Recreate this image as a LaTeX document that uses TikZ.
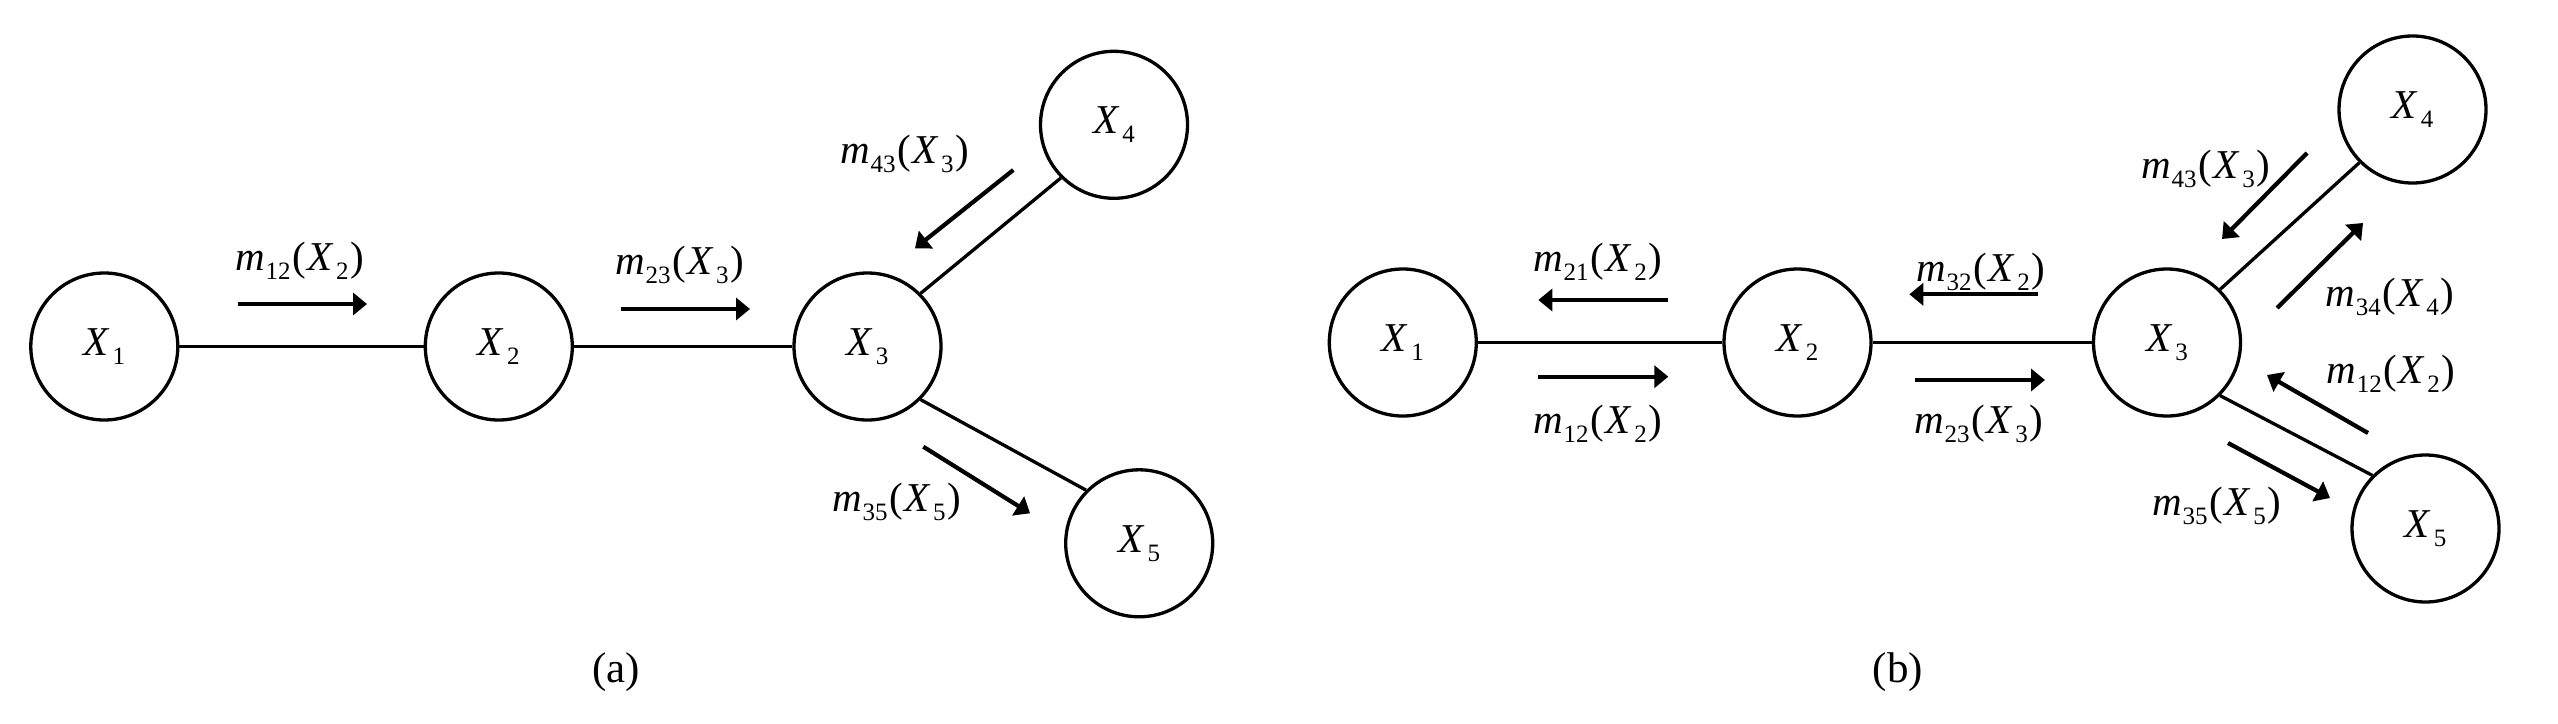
\documentclass[tikz,border=0pt]{standalone}
\usepackage{fontspec}
\setmainfont{Liberation Serif}
\usetikzlibrary{arrows.meta}
\newcommand\sub[1]{\raisebox{-0.22em}{\fontsize{25}{25}\selectfont #1}}
\newcommand\msg[2]{\textit{m}\kern0.5pt\sub{#1}\kern2pt(\kern1pt\textit{X}\kern2.5pt\sub{#2}\kern2pt)}
\newcommand\nx[1]{\textit{X}\kern3pt\sub{#1}}
\tikzset{
  var/.style={circle,draw,line width=3.3pt,minimum size=147pt,inner sep=0pt,font=\fontsize{41}{43}\selectfont},
  edge/.style={line width=3.3pt},
  msgarrow/.style={line width=4.2pt,-{Triangle[length=14pt,width=22pt]}},
  lbl/.style={anchor=base,inner sep=0pt,font=\fontsize{41}{43}\selectfont},
  subcap/.style={inner sep=0pt,font=\fontsize{43}{45}\selectfont}
}
\begin{document}
\begin{tikzpicture}[x=1pt,y=-1pt]
\useasboundingbox (0,0) rectangle (2558,723);
% ---------- (a) ----------
\node[var] (a1) at (104.3,346.5) {\nx{1}};
\node[var] (a2) at (498.8,346.5) {\nx{2}};
\node[var] (a3) at (867.5,346.5) {\nx{3}};
\node[var] (a4) at (1114,124.8) {\nx{4}};
\node[var] (a5) at (1139.2,543.3) {\nx{5}};
\draw[edge] (a1.east) -- (a2.west);
\draw[edge] (a2.east) -- (a3.west);
\draw[edge] (a3.north east) -- (a4.south west);
\draw[edge] (a3.south east) -- (a5.north west);
\coordinate (a12s) at (238,304);   \coordinate (a12e) at (367,304);
\coordinate (a23s) at (620.7,309); \coordinate (a23e) at (750,309);
\coordinate (a43s) at (1013.3,170); \coordinate (a43e) at (915,248.3);
\coordinate (a35s) at (923.3,446.7); \coordinate (a35e) at (1030,513.3);
\draw[msgarrow] (a12s) -- (a12e);
\draw[msgarrow] (a23s) -- (a23e);
\draw[msgarrow] (a43s) -- (a43e);
\draw[msgarrow] (a35s) -- (a35e);
\node[lbl] (la12) at (300,270) {\msg{12}{2}};
\node[lbl] (la23) at (680,274) {\msg{23}{3}};
\node[lbl] (la43) at (905,163) {\msg{43}{3}};
\node[lbl] (la35) at (897,511.7) {\msg{35}{5}};
\node[subcap] (capa) at (616,672) {(a)};
% ---------- (b) ----------
\node[var] (b1) at (1402.8,342.5) {\nx{1}};
\node[var] (b2) at (1797.5,342.5) {\nx{2}};
\node[var] (b3) at (2167,342.5) {\nx{3}};
\node[var] (b4) at (2412.5,109.5) {\nx{4}};
\node[var] (b5) at (2425.5,528.5) {\nx{5}};
\draw[edge] (b1.east) -- (b2.west);
\draw[edge] (b2.east) -- (b3.west);
\draw[edge] (b3.north east) -- (b4.south west);
\draw[edge] (b3.south east) -- (b5.north west);
\coordinate (b21s) at (1668.3,300);   \coordinate (b21e) at (1538.3,300);
\coordinate (b12s) at (1538.3,376.7); \coordinate (b12e) at (1668.3,376.7);
\coordinate (b32s) at (2038.3,294.3); \coordinate (b32e) at (1909.3,294.3);
\coordinate (b23s) at (1915,380);     \coordinate (b23e) at (2045,380);
\coordinate (b43s) at (2307,153);     \coordinate (b43e) at (2222,239);
\coordinate (b34s) at (2277,308);     \coordinate (b34e) at (2363,223);
\coordinate (b12rs) at (2368,433);    \coordinate (b12re) at (2267,375);
\coordinate (b35s) at (2228,443);     \coordinate (b35e) at (2330,498);
\draw[msgarrow] (b21s) -- (b21e);
\draw[msgarrow] (b12s) -- (b12e);
\draw[msgarrow] (b32s) -- (b32e);
\draw[msgarrow] (b23s) -- (b23e);
\draw[msgarrow] (b43s) -- (b43e);
\draw[msgarrow] (b34s) -- (b34e);
\draw[msgarrow] (b12rs) -- (b12re);
\draw[msgarrow] (b35s) -- (b35e);
\node[lbl] (lb21) at (1598,271.7) {\msg{21}{2}};
\node[lbl] (lb12) at (1598,433.3) {\msg{12}{2}};
\node[lbl] (lb32) at (1981,281) {\msg{32}{2}};
\node[lbl] (lb23) at (1979,433) {\msg{23}{3}};
\node[lbl] (lb43) at (2206,178.3) {\msg{43}{3}};
\node[lbl] (lb34) at (2390,306.7) {\msg{34}{4}};
\node[lbl] (lb12r) at (2391,383.3) {\msg{12}{2}};
\node[lbl] (lb35) at (2217,515) {\msg{35}{5}};
\node[subcap] (capb) at (1898,672) {(b)};
\end{tikzpicture}
\end{document}
